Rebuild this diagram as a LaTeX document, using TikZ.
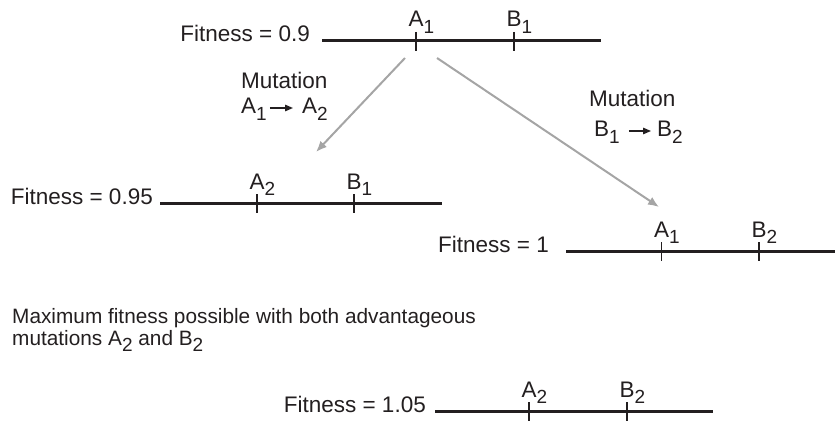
\documentclass[tikz,border=0pt]{standalone}
\usepackage{fontspec}
\setmainfont{Liberation Sans}
\usetikzlibrary{arrows.meta}
\definecolor{ink}{RGB}{35,31,32}
\definecolor{arrowgray}{RGB}{165,165,165}
\newcommand\subtx[1]{\raisebox{-0.3em}{\fontsize{19}{19}\selectfont #1}}
\begin{document}
\begin{tikzpicture}[x=1pt,y=-1pt,
  lbl/.style={font=\fontsize{22.5}{25}\selectfont, text=ink, inner sep=0pt},
  note/.style={font=\fontsize{20.8}{24}\selectfont, text=ink, inner sep=0pt, anchor=base west},
  chrom/.style={draw=ink, line width=3pt},
  locmark/.style={draw=ink, line width=1.2pt},
  mut/.style={draw=arrowgray, line width=2pt, -{Latex[length=11pt,width=9pt]}},
  smallarrow/.style={draw=ink, line width=1.4pt, -{Triangle[length=8pt,width=6.5pt]}}
  ]
\useasboundingbox (0,0) rectangle (835,425);

% ---- Row 1 (fitness 0.9)
\node[lbl, anchor=base east] (f1) at (310,42) {Fitness = 0.9};
\coordinate (c1s) at (322,41); \coordinate (c1e) at (601,41);
\draw[chrom] (c1s) -- (c1e);
\coordinate (m1at) at (416,32); \coordinate (m1ab) at (416,51);
\coordinate (m1bt) at (514,32); \coordinate (m1bb) at (514,51);
\draw[locmark] (m1at) -- (m1ab);
\draw[locmark] (m1bt) -- (m1bb);
\node[lbl, anchor=base west] (l1a) at (408.5,27) {A\subtx{1}};
\node[lbl, anchor=base west] (l1b) at (506.5,27) {B\subtx{1}};

% ---- Row 2 (fitness 0.95)
\node[lbl, anchor=base east] (f2) at (153,204) {Fitness = 0.95};
\coordinate (c2s) at (160,203); \coordinate (c2e) at (442,203);
\draw[chrom] (c2s) -- (c2e);
\coordinate (m2at) at (257,194); \coordinate (m2ab) at (257,213);
\coordinate (m2bt) at (354,194); \coordinate (m2bb) at (354,213);
\draw[locmark] (m2at) -- (m2ab);
\draw[locmark] (m2bt) -- (m2bb);
\node[lbl, anchor=base west] (l2a) at (249.5,189) {A\subtx{2}};
\node[lbl, anchor=base west] (l2b) at (346.5,189) {B\subtx{1}};

% ---- Row 3 (fitness 1)
\node[lbl, anchor=base east] (f3) at (549,252) {Fitness = 1};
\coordinate (c3s) at (566,251); \coordinate (c3e) at (835,251);
\draw[chrom] (c3s) -- (c3e);
\coordinate (m3at) at (661.5,242); \coordinate (m3ab) at (661.5,261);
\coordinate (m3bt) at (759,242); \coordinate (m3bb) at (759,261);
\draw[locmark] (m3at) -- (m3ab);
\draw[locmark] (m3bt) -- (m3bb);
\node[lbl, anchor=base west] (l3a) at (654,237) {A\subtx{1}};
\node[lbl, anchor=base west] (l3b) at (751.5,237) {B\subtx{2}};

% ---- Row 4 (fitness 1.05)
\node[lbl, anchor=base east] (f4) at (426,412) {Fitness = 1.05};
\coordinate (c4s) at (435,411); \coordinate (c4e) at (713,411);
\draw[chrom] (c4s) -- (c4e);
\coordinate (m4at) at (529,402); \coordinate (m4ab) at (529,421);
\coordinate (m4bt) at (627,402); \coordinate (m4bb) at (627,421);
\draw[locmark] (m4at) -- (m4ab);
\draw[locmark] (m4bt) -- (m4bb);
\node[lbl, anchor=base west] (l4a) at (521.5,397) {A\subtx{2}};
\node[lbl, anchor=base west] (l4b) at (619.5,397) {B\subtx{2}};

% ---- Mutation arrows
\coordinate (sA) at (405,58); \coordinate (eA) at (316,152);
\coordinate (sB) at (437,58); \coordinate (eB) at (659,207);
\draw[mut] (sA) -- (eA);
\draw[mut] (sB) -- (eB);

% ---- Mutation labels
\node[lbl, anchor=base west] (mutA) at (241,89) {Mutation};
\node[lbl, anchor=base west] (mA1) at (241,114) {A\subtx{1}};
\node[lbl, anchor=base west] (mA2) at (302,114) {A\subtx{2}};
\draw[smallarrow] ([xshift=3pt,yshift=6pt]mA1.base east) -- ([xshift=-9pt,yshift=6pt]mA2.base west);

\node[lbl, anchor=base west] (mutB) at (589,107) {Mutation};
\node[lbl, anchor=base west] (mB1) at (594,137) {B\subtx{1}};
\node[lbl, anchor=base west] (mB2) at (657,137) {B\subtx{2}};
\draw[smallarrow] ([xshift=9pt,yshift=6pt]mB1.base east) -- ([xshift=-6pt,yshift=6pt]mB2.base west);

% ---- Note
\node[note] (n1) at (12,323) {Maximum fitness possible with both advantageous};
\node[note] (n2) at (12,345) {mutations A\subtx{2} and B\subtx{2}};
\end{tikzpicture}
\end{document}
